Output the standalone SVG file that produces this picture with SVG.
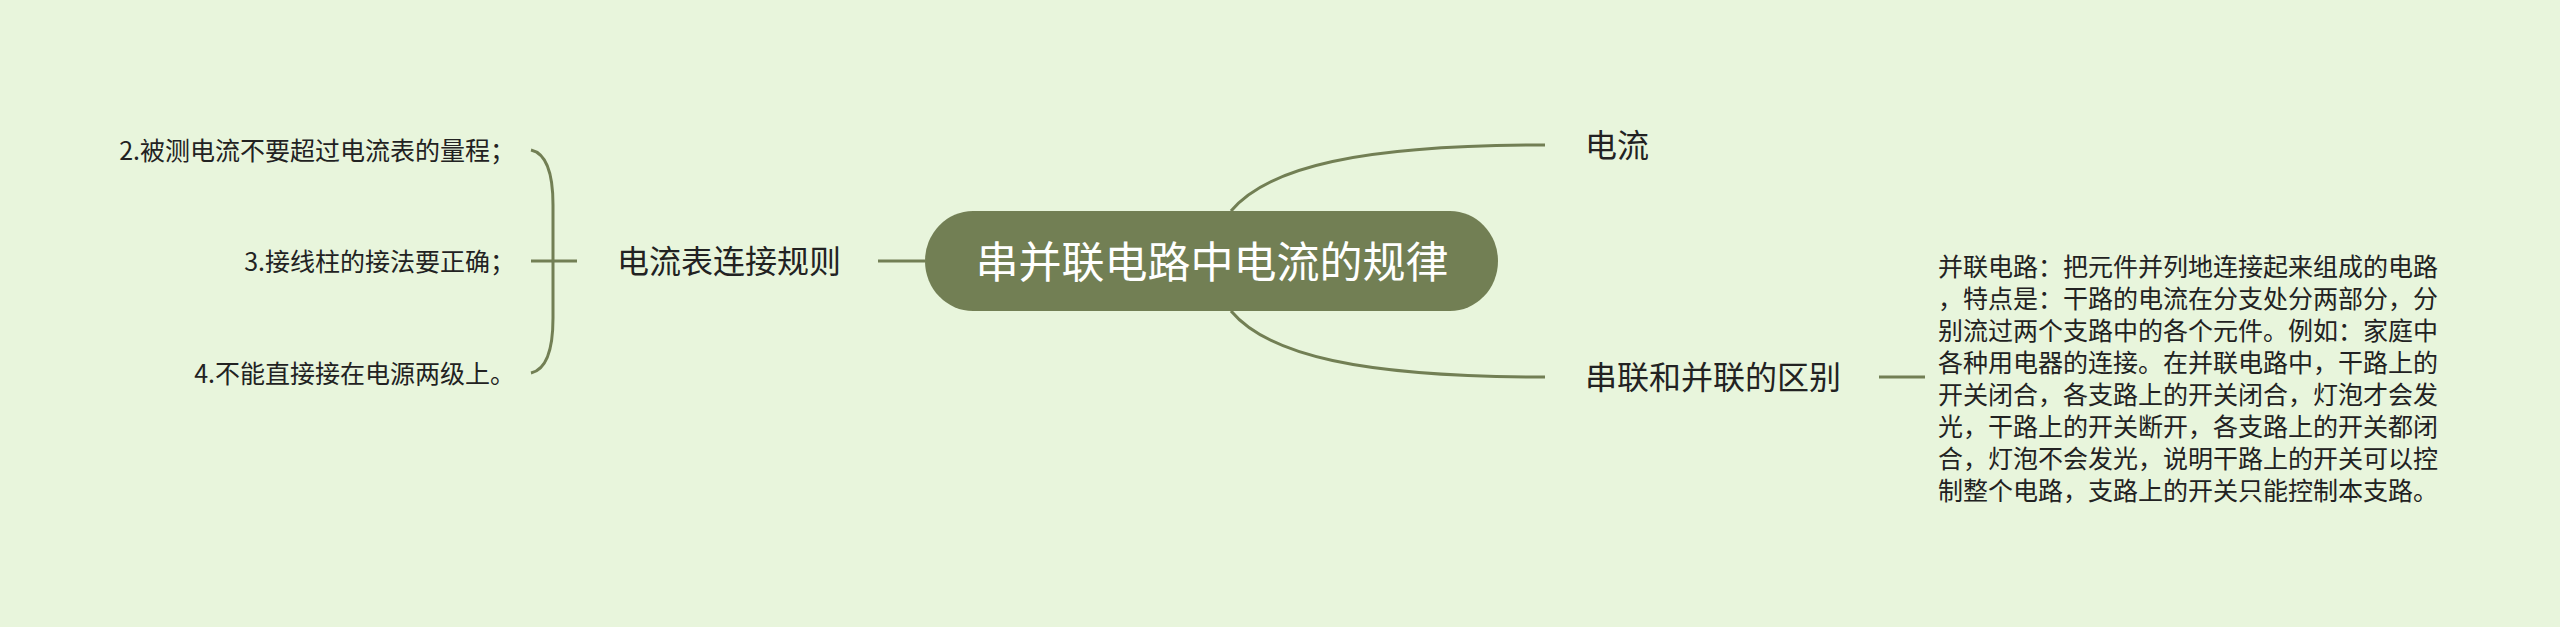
<svg xmlns="http://www.w3.org/2000/svg" width="2560" height="627" viewBox="0 0 2560 627">
<style>
.bg{fill:#e8f5dc}
.ln{fill:none;stroke:#727f54;stroke-width:3;stroke-linecap:butt}
.t{font-family:"Noto Sans CJK SC","Noto Sans",sans-serif;fill:#222222}
.s{font-size:25px}
.m{font-size:32px}
.c{font-size:43px;fill:#ffffff}
</style>
<rect class="bg" x="0" y="0" width="2560" height="627"/>
<g id="connectors">
<path class="ln" d="M1231,211 C1268,167 1360,145 1545,145"/>
<path class="ln" d="M1231,311 C1268,355 1360,377 1545,377"/>
<path class="ln" d="M925,261 L878,261"/>
<path class="ln" d="M577,261 L531,261"/>
<path class="ln" d="M531,150 Q553,155 553,205 L553,318 Q553,368 531,373"/>
<path class="ln" d="M1879,377 L1925,377"/>
</g>
<g id="root">
<rect x="925" y="211" width="573" height="100" rx="48" ry="50" fill="#727f54"/>
<text class="t c" x="1212" y="278" text-anchor="middle">串并联电路中电流的规律</text>
</g>
<g id="n-current">
<text class="t m" x="1585" y="157">电流</text>
</g>
<g id="n-diff">
<text class="t m" x="1585" y="389">串联和并联的区别</text>
</g>
<g id="n-rules">
<text class="t m" x="617" y="273">电流表连接规则</text>
</g>
<g id="n-rule2">
<text class="t s" x="515" y="160" text-anchor="end">2.被测电流不要超过电流表的量程；</text>
</g>
<g id="n-rule3">
<text class="t s" x="515" y="271" text-anchor="end">3.接线柱的接法要正确；</text>
</g>
<g id="n-rule4">
<text class="t s" x="515" y="383" text-anchor="end">4.不能直接接在电源两级上。</text>
</g>
<g id="n-detail">
<text class="t s" x="1938" y="276">
<tspan x="1938" y="276">并联电路：把元件并列地连接起来组成的电路</tspan>
<tspan x="1938" y="308">，特点是：干路的电流在分支处分两部分，分</tspan>
<tspan x="1938" y="340">别流过两个支路中的各个元件。例如：家庭中</tspan>
<tspan x="1938" y="372">各种用电器的连接。在并联电路中，干路上的</tspan>
<tspan x="1938" y="404">开关闭合，各支路上的开关闭合，灯泡才会发</tspan>
<tspan x="1938" y="436">光，干路上的开关断开，各支路上的开关都闭</tspan>
<tspan x="1938" y="468">合，灯泡不会发光，说明干路上的开关可以控</tspan>
<tspan x="1938" y="500">制整个电路，支路上的开关只能控制本支路。</tspan>
</text>
</g>
</svg>
